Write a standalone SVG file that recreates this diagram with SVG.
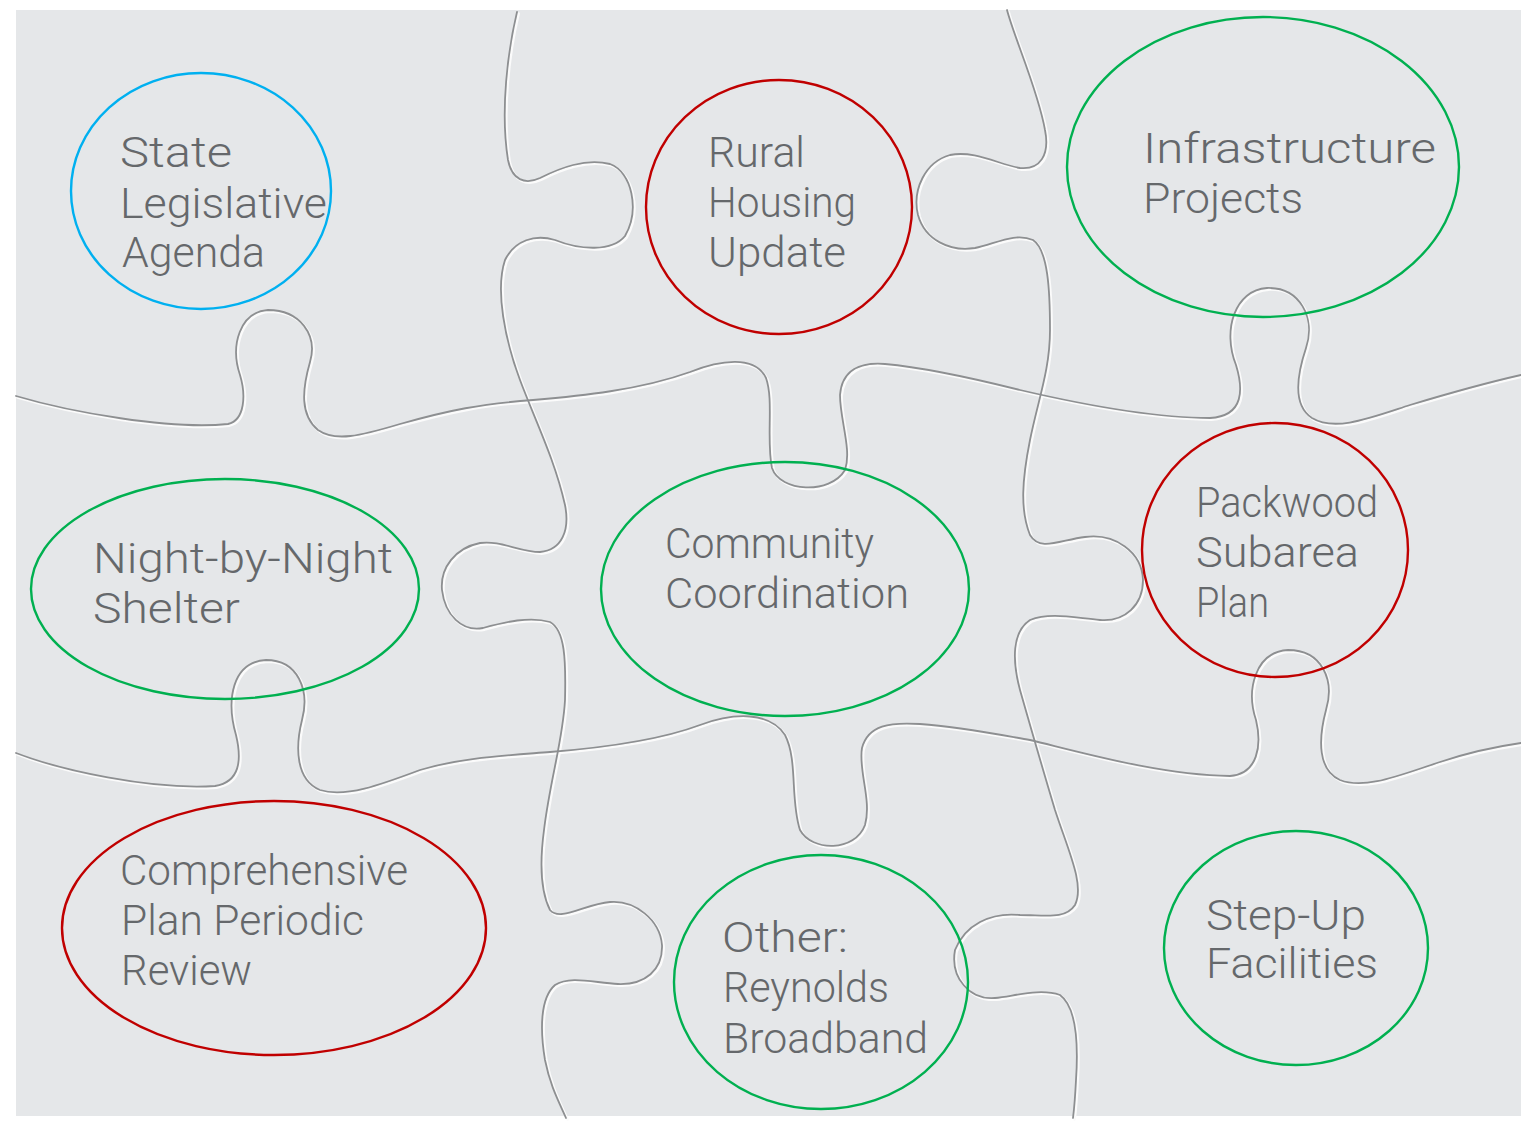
<svg xmlns="http://www.w3.org/2000/svg" xmlns:xlink="http://www.w3.org/1999/xlink" width="1521" height="1123" viewBox="0 0 1521 1123">
<style>
.cut{fill:none;stroke:#8d8f91;stroke-width:1.8;stroke-linecap:round}
.hl{fill:none;stroke:#fbfbfb;stroke-width:2.6;stroke-linecap:round}
.node{fill:none;stroke-width:2.4}
.blue{stroke:#00b0f0}
.red{stroke:#c00000}
.green{stroke:#00b050}
.lbl{font-family:Roboto,"DejaVu Sans","Liberation Sans",sans-serif;font-weight:300;font-size:42px;fill:#65686b}
</style>
<defs>
<path id="h1" d="M16,396 C70,412 170,430 228,424 C245,420 246,395 240,375 C230,345 240,312 268,310 C300,310 318,335 310,362 C302,390 300,415 318,430 C335,442 360,436 400,424 C450,410 480,404 533,400 C580,396 640,390 690,372 C720,360 755,355 766,378 C774,400 766,440 772,468 C780,492 830,495 845,470 C852,450 840,420 840,395 C842,370 860,362 885,364 C930,368 980,380 1020,390 C1080,404 1150,418 1210,418 C1245,416 1243,388 1236,365 C1222,330 1235,290 1267,288 C1300,287 1316,318 1306,348 C1297,375 1292,405 1312,418 C1335,432 1370,418 1410,405 C1450,393 1490,382 1521,375"/>
<path id="h2" d="M16,753 C60,770 150,790 215,786 C240,782 242,760 236,735 C226,700 232,662 266,660 C298,660 310,690 302,720 C295,748 296,780 320,790 C345,798 380,785 420,770 C460,758 500,756 550,752 C600,748 660,740 700,725 C735,712 770,712 785,735 C798,760 790,800 800,830 C812,852 855,852 865,825 C872,800 858,770 862,748 C868,725 890,722 920,724 C960,727 990,733 1030,740 C1080,752 1160,775 1230,776 C1258,774 1262,745 1256,720 C1246,690 1255,652 1288,650 C1322,650 1335,680 1326,710 C1318,740 1318,770 1340,780 C1365,790 1400,775 1440,762 C1470,752 1500,746 1521,743"/>
<path id="v1" d="M517,12 C508,50 500,110 508,160 C512,180 525,185 540,178 C560,168 585,158 610,164 C632,172 640,210 625,236 C612,252 580,250 555,240 C535,234 515,240 505,260 C495,290 505,340 520,380 C535,420 555,460 565,505 C570,530 562,550 540,552 C520,552 500,540 480,543 C455,548 440,568 442,590 C445,615 462,632 483,628 C505,622 530,616 550,622 C565,630 566,660 565,700 C563,740 550,780 544,830 C540,860 540,890 550,910 C560,922 585,904 610,902 C635,900 660,920 662,945 C663,970 645,985 618,984 C595,983 570,975 555,985 C540,998 540,1030 545,1060 C550,1085 558,1100 566,1118"/>
<path id="v2" d="M1007,10 C1015,40 1038,90 1045,130 C1050,155 1040,170 1020,168 C1000,165 975,150 950,155 C925,162 912,190 918,215 C925,240 950,252 975,248 C995,244 1015,232 1033,240 C1048,250 1050,290 1050,330 C1050,370 1038,400 1030,440 C1022,480 1020,510 1030,535 C1040,552 1060,540 1085,537 C1115,533 1142,552 1143,580 C1143,605 1125,622 1100,620 C1075,618 1050,612 1030,620 C1012,632 1012,660 1020,690 C1030,725 1040,760 1055,810 C1068,850 1085,885 1075,905 C1065,920 1045,915 1020,915 C990,912 965,925 955,950 C950,978 970,1000 995,998 C1015,996 1040,988 1060,995 C1078,1008 1078,1050 1076,1080 C1075,1100 1074,1110 1073,1118"/>
</defs>
<rect x="0" y="0" width="1521" height="1123" fill="#ffffff"/>
<rect x="16" y="10" width="1505" height="1106" fill="#e5e7e9"/>
<g id="puzzle">
<use xlink:href="#h1" class="hl" transform="translate(1.6,1.6)"/>
<use xlink:href="#h2" class="hl" transform="translate(1.6,1.6)"/>
<use xlink:href="#v1" class="hl" transform="translate(1.6,1.6)"/>
<use xlink:href="#v2" class="hl" transform="translate(1.6,1.6)"/>
<use xlink:href="#h1" class="cut"/>
<use xlink:href="#h2" class="cut"/>
<use xlink:href="#v1" class="cut"/>
<use xlink:href="#v2" class="cut"/>
</g>
<g id="state-legislative-agenda">
<ellipse class="node blue" cx="201" cy="191" rx="130" ry="118"/>
<text class="lbl" x="120" y="167" textLength="112" lengthAdjust="spacingAndGlyphs">State</text>
<text class="lbl" x="120" y="218" textLength="207" lengthAdjust="spacingAndGlyphs">Legislative</text>
<text class="lbl" x="122" y="267" textLength="143" lengthAdjust="spacingAndGlyphs">Agenda</text>
</g>
<g id="rural-housing-update">
<ellipse class="node red" cx="779" cy="207" rx="133" ry="127"/>
<text class="lbl" x="708" y="167" textLength="97" lengthAdjust="spacingAndGlyphs">Rural</text>
<text class="lbl" x="708" y="217" textLength="148" lengthAdjust="spacingAndGlyphs">Housing</text>
<text class="lbl" x="708" y="267" textLength="138" lengthAdjust="spacingAndGlyphs">Update</text>
</g>
<g id="infrastructure-projects">
<ellipse class="node green" cx="1263" cy="167" rx="196" ry="150"/>
<text class="lbl" x="1143" y="163" textLength="293" lengthAdjust="spacingAndGlyphs">Infrastructure</text>
<text class="lbl" x="1143" y="213" textLength="160" lengthAdjust="spacingAndGlyphs">Projects</text>
</g>
<g id="night-by-night-shelter">
<ellipse class="node green" cx="225" cy="589" rx="194" ry="110"/>
<text class="lbl" x="93" y="573" textLength="300" lengthAdjust="spacingAndGlyphs">Night-by-Night</text>
<text class="lbl" x="93" y="623" textLength="147" lengthAdjust="spacingAndGlyphs">Shelter</text>
</g>
<g id="community-coordination">
<ellipse class="node green" cx="785" cy="589" rx="184" ry="127"/>
<text class="lbl" x="665" y="558" textLength="209" lengthAdjust="spacingAndGlyphs">Community</text>
<text class="lbl" x="665" y="608" textLength="244" lengthAdjust="spacingAndGlyphs">Coordination</text>
</g>
<g id="packwood-subarea-plan">
<ellipse class="node red" cx="1275" cy="550" rx="133" ry="127"/>
<text class="lbl" x="1196" y="517" textLength="182" lengthAdjust="spacingAndGlyphs">Packwood</text>
<text class="lbl" x="1196" y="567" textLength="163" lengthAdjust="spacingAndGlyphs">Subarea</text>
<text class="lbl" x="1196" y="617" textLength="73" lengthAdjust="spacingAndGlyphs">Plan</text>
</g>
<g id="comprehensive-plan-periodic-review">
<ellipse class="node red" cx="274" cy="928" rx="212" ry="127"/>
<text class="lbl" x="120" y="885" textLength="288" lengthAdjust="spacingAndGlyphs">Comprehensive</text>
<text class="lbl" x="121" y="935" textLength="243" lengthAdjust="spacingAndGlyphs">Plan Periodic</text>
<text class="lbl" x="121" y="985" textLength="131" lengthAdjust="spacingAndGlyphs">Review</text>
</g>
<g id="other-reynolds-broadband">
<ellipse class="node green" cx="821" cy="982" rx="147" ry="127"/>
<text class="lbl" x="722" y="952" textLength="126" lengthAdjust="spacingAndGlyphs">Other:</text>
<text class="lbl" x="723" y="1002" textLength="166" lengthAdjust="spacingAndGlyphs">Reynolds</text>
<text class="lbl" x="723" y="1053" textLength="205" lengthAdjust="spacingAndGlyphs">Broadband</text>
</g>
<g id="step-up-facilities">
<ellipse class="node green" cx="1296" cy="948" rx="132" ry="117"/>
<text class="lbl" x="1206" y="930" textLength="160" lengthAdjust="spacingAndGlyphs">Step-Up</text>
<text class="lbl" x="1206" y="978" textLength="172" lengthAdjust="spacingAndGlyphs">Facilities</text>
</g>
</svg>
